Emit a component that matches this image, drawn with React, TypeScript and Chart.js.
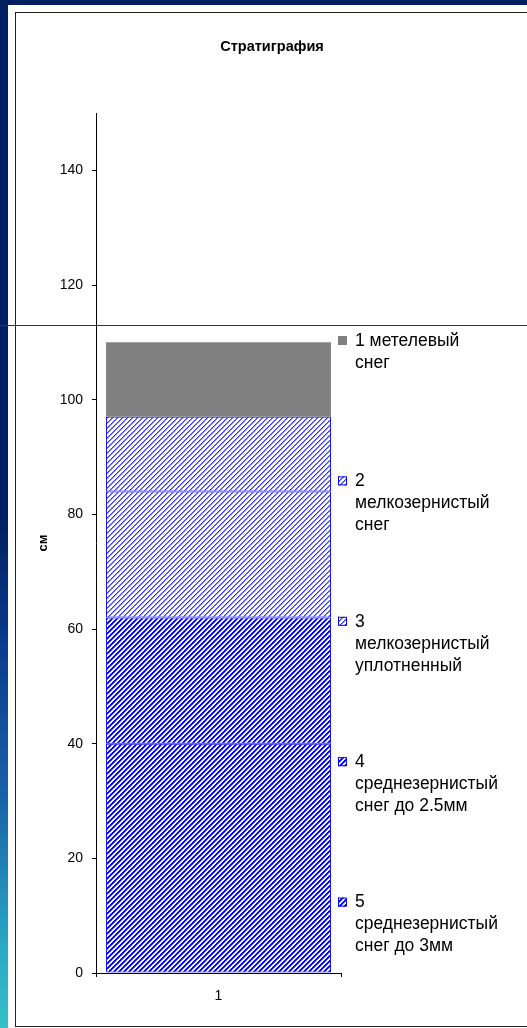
import React, { useEffect, useRef } from "react";
import { Chart, registerables } from "chart.js";

Chart.register(...registerables);

const categories = ["1"];
const layerLabels = [
  ["1 метелевый", "снег"],
  ["2", "мелкозернистый", "снег"],
  ["3", "мелкозернистый", "уплотненный"],
  ["4", "среднезернистый", "снег до 2.5мм"],
  ["5", "среднезернистый", "снег до 3мм"],
];
// thickness of each layer, bottom (5) to top (1)
const layer5 = [40];
const layer4 = [22];
const layer3 = [22];
const layer2 = [13];
const layer1 = [13];
const yTicks = [0, 20, 40, 60, 80, 100, 120, 140];
const yMax = 150;
const chartTitle = "Стратиграфия";
const yTitle = "см";

function makePattern(dense: boolean): CanvasPattern | string {
  const p = 5;
  const c = document.createElement("canvas");
  c.width = p;
  c.height = p;
  const ctx = c.getContext("2d");
  if (!ctx) return "#0000ff";
  ctx.fillStyle = "#ffffff";
  ctx.fillRect(0, 0, p, p);
  for (let x = 0; x < p; x++) {
    for (let y = 0; y < p; y++) {
      const k = (x + y) % p;
      let col = "";
      if (dense) {
        if (k === 0 || k === 1) col = "#0000ff";
        else if (k === 2) col = "#7070ff";
      } else {
        if (k === 0) col = "#3030ff";
        else if (k === 1) col = "#8c8cff";
      }
      if (col) {
        ctx.fillStyle = col;
        ctx.fillRect(x, y, 1, 1);
      }
    }
  }
  const pat = ctx.createPattern(c, "repeat");
  return pat || "#0000ff";
}

const FONT = "'Liberation Sans', Arial, sans-serif";

export default function App() {
  const ref = useRef<HTMLCanvasElement | null>(null);
  useEffect(() => {
    const canvas = ref.current;
    if (!canvas) return;
    const dense = makePattern(true);
    const light = makePattern(false);
    const fills = ["#808080", light, light, dense, dense];

    const extrasPlugin = {
      id: "extras",
      afterDraw(chart: any) {
        const ctx = chart.ctx;
        ctx.save();
        // title
        ctx.fillStyle = "#000000";
        ctx.font = `bold 14.5px ${FONT}`;
        ctx.textAlign = "center";
        ctx.textBaseline = "middle";
        ctx.fillText(chartTitle, 256, 34);
        // legend
        const x0 = 322;
        const y0 = 328;
        const step = 140.4;
        const lh = 22;
        layerLabels.forEach((lines, i) => {
          const cy = y0 + i * step;
          ctx.fillStyle = fills[i] as any;
          ctx.fillRect(x0, cy - 5, 9, 9);
          if (i > 0) {
            ctx.strokeStyle = "#0000ff";
            ctx.lineWidth = 1;
            ctx.strokeRect(x0 + 0.5, cy - 4.5, 8, 8);
          }
          ctx.fillStyle = "#000000";
          ctx.font = `17.5px ${FONT}`;
          ctx.textBaseline = "middle";
          ctx.textAlign = "left";
          lines.forEach((t, j) => {
            ctx.fillText(t, x0 + 17, cy + j * lh);
          });
        });
        ctx.restore();
      },
    };

    const mk = (label: string, data: number[], fill: any, border: boolean) => ({
      label,
      data,
      backgroundColor: fill,
      borderColor: border ? "#0000ff" : "#808080",
      borderWidth: border ? 1 : 0,
      borderSkipped: false,
      barPercentage: 0.918,
      categoryPercentage: 1,
    });

    const chart = new Chart(canvas, {
      type: "bar",
      data: {
        labels: categories,
        datasets: [
          mk(layerLabels[4].join(" "), layer5, dense, true),
          mk(layerLabels[3].join(" "), layer4, dense, true),
          mk(layerLabels[2].join(" "), layer3, light, true),
          mk(layerLabels[1].join(" "), layer2, light, true),
          mk(layerLabels[0].join(" "), layer1, "#808080", false),
        ],
      },
      options: {
        animation: false,
        responsive: false,
        maintainAspectRatio: false,
        layout: { padding: { left: 0, right: 186, top: 100, bottom: 0 } },
        plugins: {
          legend: { display: false },
          tooltip: { enabled: false },
          title: { display: false },
        },
        scales: {
          x: {
            stacked: true,
            offset: true,
            grid: {
              display: true,
              offset: true,
              drawOnChartArea: false,
              drawTicks: true,
              tickLength: 4,
              color: "#000",
            },
            border: { display: true, color: "#000", width: 1 },
            ticks: {
              color: "#000",
              font: { family: FONT, size: 14 },
              padding: 11,
            },
            afterFit: (s: any) => {
              s.height = 52;
            },
          },
          y: {
            stacked: true,
            min: 0,
            max: yMax,
            afterBuildTicks: (s: any) => {
              s.ticks = yTicks.map((v) => ({ value: v }));
            },
            grid: {
              display: true,
              drawOnChartArea: false,
              drawTicks: true,
              tickLength: 4,
              color: "#000",
            },
            border: { display: true, color: "#000", width: 1 },
            ticks: {
              color: "#000",
              font: { family: FONT, size: 14 },
              padding: 9,
            },
            title: {
              display: true,
              text: yTitle,
              color: "#000",
              font: { family: FONT, size: 13, weight: "bold", lineHeight: 1.2 },
              padding: { top: 19.2, bottom: 0 },
            },
            afterFit: (s: any) => {
              s.width = 80;
            },
          },
        },
      },
      plugins: [extrasPlugin],
    });
    return () => chart.destroy();
  }, []);

  return (
    <div
      style={{
        position: "fixed",
        left: 0,
        top: 0,
        width: 527,
        height: 1028,
        background: "#00205f",
        overflow: "hidden",
      }}
    >
      <div
        style={{
          position: "absolute",
          left: 0,
          top: 0,
          width: 8,
          height: 1028,
          background:
            "linear-gradient(to bottom, #00205f 0%, #00205f 50%, #0a3a8c 62%, #1a63a8 78%, #2aa8c4 92%, #34c0c8 100%)",
        }}
      />
      <div
        style={{
          position: "absolute",
          left: 8,
          top: 5,
          right: 0,
          bottom: 0,
          background: "#ffffff",
        }}
      />
      <div
        style={{
          position: "absolute",
          left: 15,
          top: 12,
          width: 530,
          height: 1015,
          boxSizing: "border-box",
          border: "1px solid #222",
        }}
      />
      <canvas
        ref={ref}
        width={511}
        height={1012}
        style={{ position: "absolute", left: 16, top: 13, width: 511, height: 1012 }}
      />
      <div
        style={{
          position: "absolute",
          left: 0,
          top: 325,
          width: 527,
          height: 1,
          background: "#1c3270",
        }}
      />
    </div>
  );
}
